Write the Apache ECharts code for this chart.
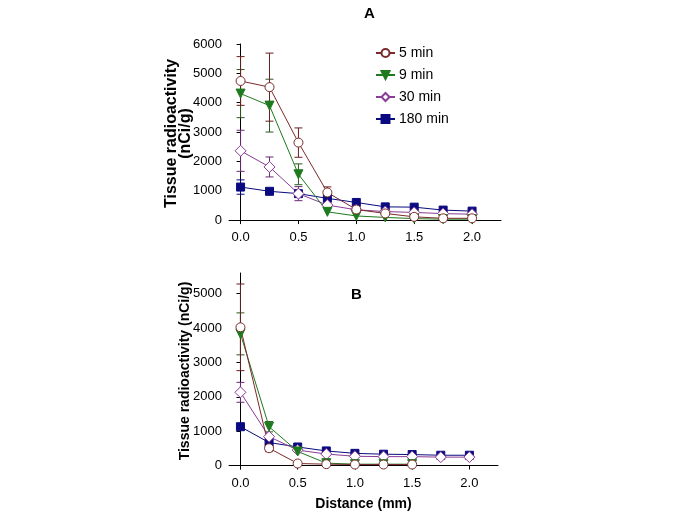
<!DOCTYPE html>
<html>
<head>
<meta charset="utf-8">
<script src="https://cdn.jsdelivr.net/npm/echarts@6/dist/echarts.min.js"></script>
<style>
html,body{margin:0;padding:0;background:#fff;}
#chart{width:685px;height:513px;}
</style>
</head>
<body>
<div id="chart"></div>
<script>
// ---- Data ----
const seriesNames = ['5 min', '9 min', '30 min', '180 min'];
const xTicks = [0, 0.5, 1.0, 1.5, 2.0];
const yTicksA = [0, 1000, 2000, 3000, 4000, 5000, 6000];
const yTicksB = [0, 1000, 2000, 3000, 4000, 5000];

const distA = [0, 0.25, 0.5, 0.75, 1.0, 1.25, 1.5, 1.75, 2.0];
const a5 = [4740, 4530, 2640, 940, 360, 225, 110, 60, 60];
const a5err = [830, 1160, 500, 190, 0, 0, 0, 0, 0];
const a9 = [4310, 3900, 1560, 280, 140, 90, 50, 30, 30];
const a9err = [820, 900, 355, 0, 0, 0, 0, 0, 0];
const a30 = [2360, 1810, 900, 510, 350, 290, 260, 220, 200];
const a30err = [700, 340, 240, 0, 0, 0, 0, 0, 0];
const a180 = [1125, 980, 900, 740, 600, 450, 440, 340, 305];
const a180err = [245, 0, 80, 0, 0, 0, 0, 0, 0];

const distB5 = [0, 0.25, 0.5, 0.75, 1.0, 1.25, 1.5];
const b5 = [4020, 505, 60, 40, 30, 30, 30];
const b5err = [1260, 100, 0, 0, 0, 0, 0];
const b9 = [3830, 1130, 410, 70, 40, 40, 40];
const b9err = [610, 150, 0, 0, 0, 0, 0];
const distB = [0, 0.25, 0.5, 0.75, 1.0, 1.25, 1.5, 1.75, 2.0];
const b30 = [2130, 840, 450, 335, 270, 260, 260, 245, 245];
const b30err = [290, 0, 0, 0, 0, 0, 0, 0, 0];
const b180 = [1130, 670, 540, 425, 355, 330, 320, 300, 300];
const b180err = [0, 0, 0, 0, 0, 0, 0, 0, 0];

// ---- Styles ----
const styles = {
  '5 min':  {line: '#7b2b2b', err: '#6b1f1f', symbol: 'circle', fill: '#ffffff', size: 9},
  '9 min':  {line: '#1e7a1e', err: '#2d5a1e', symbol: 'path://M0,0 L10,0 L5,9 Z', fill: '#1e7a1e', size: 9},
  '30 min': {line: '#8a3c96', err: '#6a2a74', symbol: 'diamond', fill: '#ffffff', size: 11},
  '180 min':{line: '#0a0a80', err: '#0a0a80', symbol: 'rect', fill: '#0a0a80', size: 8}
};

function pts(xs, ys) { return xs.map((x, i) => [x, ys[i]]); }
function errPts(xs, ys, es) {
  const out = [];
  xs.forEach((x, i) => { if (es[i] > 0) out.push([x, ys[i] - es[i], ys[i] + es[i]]); });
  return out;
}

function lineSeries(name, xs, ys, gi) {
  const s = styles[name];
  return {
    name: name, type: 'line', xAxisIndex: gi, yAxisIndex: gi,
    data: pts(xs, ys), symbol: s.symbol, symbolSize: s.size,
    showAllSymbol: true, z: 3,
    lineStyle: {color: s.line, width: 1},
    itemStyle: {color: s.fill, borderColor: s.line, borderWidth: 1},
    emphasis: {disabled: true}, animation: false
  };
}

function errSeries(name, xs, ys, es, gi) {
  const s = styles[name];
  return {
    type: 'custom', xAxisIndex: gi, yAxisIndex: gi, z: 2,
    data: errPts(xs, ys, es), animation: false, silent: true,
    renderItem: function (params, api) {
      const x = api.value(0);
      const lo = api.coord([x, api.value(1)]);
      const hi = api.coord([x, api.value(2)]);
      const w = 4;
      const st = {stroke: s.err, lineWidth: 1};
      return {type: 'group', children: [
        {type: 'line', shape: {x1: lo[0], y1: lo[1], x2: hi[0], y2: hi[1]}, style: st},
        {type: 'line', shape: {x1: lo[0] - w, y1: lo[1], x2: lo[0] + w, y2: lo[1]}, style: st},
        {type: 'line', shape: {x1: hi[0] - w, y1: hi[1], x2: hi[0] + w, y2: hi[1]}, style: st}
      ]};
    }
  };
}

const fontFam = '"Liberation Sans", Arial, sans-serif';

function xAxis(gi, withName) {
  const ax = {
    type: 'value', gridIndex: gi, min: -0.1, max: 2.25,
    axisLine: {lineStyle: {color: '#000', width: 1}},
    axisTick: {show: true, inside: false, length: 4, customValues: xTicks, lineStyle: {color: '#000'}},
    axisLabel: {customValues: xTicks, color: '#000', fontSize: 13, fontFamily: fontFam, margin: 8,
      formatter: v => Number(v).toFixed(1)},
    splitLine: {show: false}
  };
  if (withName) {
    ax.name = 'Distance (mm)';
    ax.nameLocation = 'middle';
    ax.nameGap = 28;
    ax.nameMoveOverlap = false;
    ax.nameTextStyle = {fontWeight: 'bold', fontSize: 14, color: '#000', fontFamily: fontFam};
  }
  return ax;
}

function yAxis(gi, max, ticks, name, fs, gap) {
  return {
    type: 'value', gridIndex: gi, min: -100, max: max,
    name: name, nameLocation: 'middle', nameRotate: 90, nameGap: gap, nameMoveOverlap: false,
    nameTextStyle: {fontWeight: 'bold', fontSize: fs, color: '#000', fontFamily: fontFam, lineHeight: 14},
    axisLine: {show: true, lineStyle: {color: '#000', width: 1}},
    axisTick: {show: true, inside: false, length: 4, customValues: ticks, lineStyle: {color: '#000'}},
    axisLabel: {customValues: ticks, color: '#000', fontSize: 13, fontFamily: fontFam, margin: 7,
      formatter: v => String(Math.round(v))},
    splitLine: {show: false}
  };
}

const series = [];
// draw order: 180, 30, 9, 5 (5 min on top)
const orderA = [['180 min', a180, a180err], ['30 min', a30, a30err], ['9 min', a9, a9err], ['5 min', a5, a5err]];
orderA.forEach(([n, ys, es]) => {
  series.push(errSeries(n, distA, ys, es, 0));
  series.push(lineSeries(n, distA, ys, 0));
});
const orderB = [['180 min', distB, b180, b180err], ['30 min', distB, b30, b30err], ['9 min', distB5, b9, b9err], ['5 min', distB5, b5, b5err]];
orderB.forEach(([n, xs, ys, es]) => {
  series.push(errSeries(n, xs, ys, es, 1));
  series.push(lineSeries(n, xs, ys, 1));
});

const option = {
  backgroundColor: '#fff',
  animation: false,
  title: [
    {text: 'A', left: 359, top: 1, textStyle: {fontWeight: 'bold', fontSize: 15, color: '#000', fontFamily: fontFam}},
    {text: 'B', left: 346, top: 282, textStyle: {fontWeight: 'bold', fontSize: 15, color: '#000', fontFamily: fontFam}}
  ],
  legend: {
    data: seriesNames, orient: 'vertical', left: 375, top: 46, padding: 0,
    itemWidth: 19, itemHeight: 10, itemGap: 8, itemStyle: {},
    textStyle: {fontSize: 14, color: '#000', fontFamily: fontFam, padding: [0, 0, 0, -1]},
    selectedMode: false
  },
  grid: [
    {left: 229, right: 184, top: 44, height: 179},
    {left: 229, right: 187, top: 273, height: 196}
  ],
  xAxis: [xAxis(0, false), xAxis(1, true)],
  yAxis: [
    yAxis(0, 6000, yTicksA, 'Tissue radioactivity\n(nCi/g)', 16, 36),
    yAxis(1, 5600, yTicksB, 'Tissue radioactivity (nCi/g)', 14, 37)
  ],
  series: series
};

const chart = echarts.init(document.getElementById('chart'), null, {renderer: 'canvas'});
chart.setOption(option);
</script>
</body>
</html>
